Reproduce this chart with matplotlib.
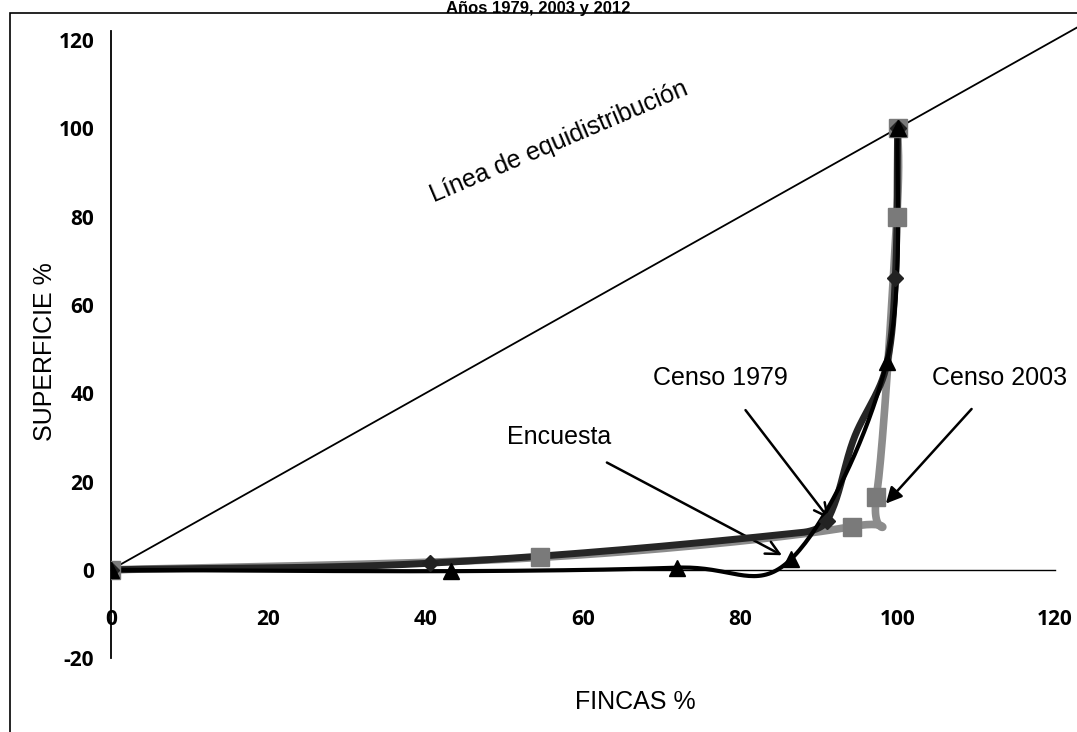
#!/usr/bin/env python3

import numpy as np
import matplotlib.pyplot as plt
from matplotlib.patches import Rectangle

plt.rcParams['axes.unicode_minus'] = False

# Lorenz curves of land distribution
censo1979_x = [0, 40.5, 88, 91, 94.5, 98.4, 99.7, 100]
censo1979_y = [0, 1.5, 8.5, 11, 30, 45, 66, 100]
censo1979_marks = [0, 1, 3, 6, 7]   # points that carry a visible marker

censo2003_x = [0, 54.5, 94.2, 97.3, 99.9, 100]
censo2003_y = [0, 2.8, 9.8, 16.5, 80, 100]

encuesta_x = [0, 43.2, 72, 86.5, 98.6, 100]
encuesta_y = [0, -0.3, 0.5, 2.5, 47, 100]

equi = [0, 140]


def smooth(xs, ys, scaled=False, n=40):
    # Excel style smoothed line through the points (bezier segments)
    p = np.column_stack([xs, ys]).astype(float)
    p = np.vstack([p[0], p, p[-1]])
    t = np.linspace(0, 1, n)[:, None]
    out = []
    for i in range(1, len(p) - 2):
        p0, p1, p2, p3 = p[i - 1], p[i], p[i + 1], p[i + 2]
        if scaled:
            d01 = np.hypot(*(p1 - p0))
            d12 = np.hypot(*(p2 - p1))
            d23 = np.hypot(*(p3 - p2))
            k1 = d12 / (d01 + d12) / 3 if d01 + d12 else 0
            k2 = d12 / (d12 + d23) / 3 if d12 + d23 else 0
        else:
            k1 = k2 = 1 / 6
        c1 = p1 + (p2 - p0) * k1
        c2 = p2 - (p3 - p1) * k2
        b = (1 - t) ** 3 * p1 + 3 * (1 - t) ** 2 * t * c1 + 3 * (1 - t) * t ** 2 * c2 + t ** 3 * p2
        out.append(b)
    out = np.vstack(out)
    return out[:, 0], out[:, 1]


fig = plt.figure(figsize=(10.77, 7.32), dpi=100)
ax = fig.add_axes([0.103, 0.0888, 0.897, 0.911])
ax.set_xlim(0, 122.8)
ax.set_ylim(-22, 129)

for s in ["top", "right"]:
    ax.spines[s].set_visible(False)
ax.spines["left"].set_position(("data", 0))
ax.spines["bottom"].set_position(("data", 0))
ax.spines["left"].set_bounds(-20, 122)
ax.spines["bottom"].set_bounds(0, 120)
ax.spines["left"].set_linewidth(1.3)
ax.spines["bottom"].set_linewidth(1.0)

ax.set_xticks(range(0, 121, 20))
ax.set_yticks(range(-20, 121, 20))
ax.tick_params(length=0, labelsize=15, pad=12)
ax.tick_params(axis="x", pad=28)
for lab in ax.get_xticklabels() + ax.get_yticklabels():
    lab.set_fontfamily("Open Sans")
    lab.set_fontweight("bold")

# equidistribution line
ax.plot(equi, equi, color="black", lw=1.3, zorder=2)

x, y = smooth(censo2003_x, censo2003_y)
ax.plot(x, y, color="#8c8c8c", lw=5.5, zorder=3)
ax.plot(censo2003_x, censo2003_y, ls="none", marker="s", ms=13, color="#7a7a7a", zorder=5)

x, y = smooth(censo1979_x, censo1979_y, scaled=True)
ax.plot(x, y, color="#262626", lw=5, zorder=4)
ax.plot([censo1979_x[i] for i in censo1979_marks], [censo1979_y[i] for i in censo1979_marks],
        ls="none", marker="D", ms=8, color="#222222", zorder=5)

x, y = smooth(encuesta_x, encuesta_y)
ax.plot(x, y, color="black", lw=3, zorder=4)
ax.plot(encuesta_x, encuesta_y, ls="none", marker="^", ms=12, color="black", zorder=6)

txt = dict(fontsize=18, family="Liberation Sans")
ax.text(57, 97, "Línea de equidistribución", rotation=23, ha="center", va="center", **txt)
ax.annotate("Censo 1979", xy=(91.3, 11.5), xytext=(77.5, 43.5), ha="center", va="center",
            arrowprops=dict(arrowstyle="->", lw=1.8, color="black", mutation_scale=24,
                            shrinkA=16, shrinkB=0), **txt)
ax.annotate("Encuesta", xy=(85.3, 3.3), xytext=(57, 30), ha="center", va="center",
            arrowprops=dict(arrowstyle="->", lw=1.8, color="black", mutation_scale=24,
                            shrinkA=16, shrinkB=0), **txt)
ax.annotate("Censo 2003", xy=(98.5, 15), xytext=(113, 43.5), ha="center", va="center",
            arrowprops=dict(arrowstyle="-|>", lw=1.8, color="black", mutation_scale=24,
                            shrinkA=16, shrinkB=0), **txt)

fig.text(0.042, 0.52, "SUPERFICIE %", rotation=90, ha="center", va="center", fontsize=18,
         family="Liberation Sans")
fig.text(0.5895, 0.041, "FINCAS %", ha="center", va="center", fontsize=18, family="Liberation Sans")
fig.text(0.5, 0.999, "Años 1979, 2003 y 2012", ha="center", va="top", fontsize=12,
         fontweight="bold", family="Liberation Sans")

fig.add_artist(Rectangle((0.009, -0.01), 1.0, 0.992, transform=fig.transFigure, fill=False,
                         lw=1.2, edgecolor="black"))

fig.savefig("out.png", dpi=100)
plt.close(fig)
